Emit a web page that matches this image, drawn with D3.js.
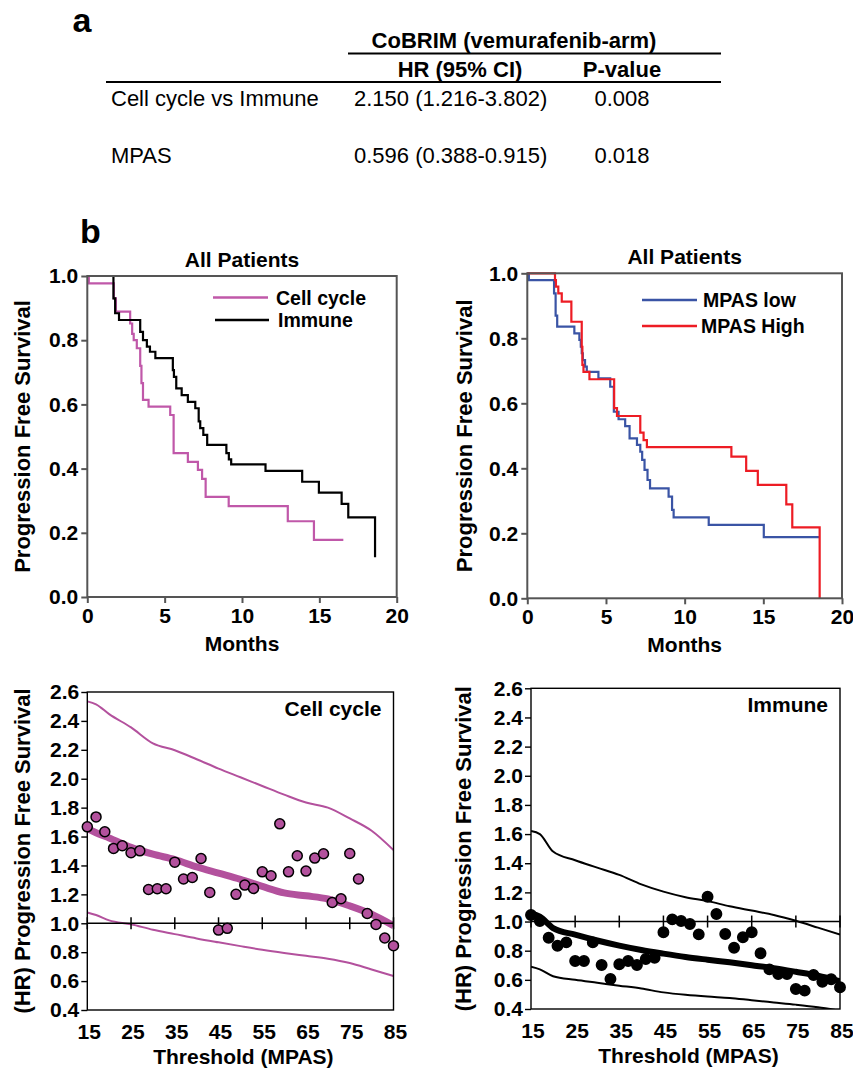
<!DOCTYPE html>
<html>
<head>
<meta charset="utf-8">
<script src="https://cdn.jsdelivr.net/npm/d3@7"></script>
<style>
  body { margin: 0; background: #fff; }
  svg { display: block; font-family: Arial, "Liberation Sans", sans-serif; }
</style>
</head>
<body>
<div class="workspace"></div>
<script>
// ---- table (panel a) ----
const tableRows = ['Cell cycle vs Immune', 'MPAS'];
const tableHR = ['2.150 (1.216-3.802)', '0.596 (0.388-0.915)'];
const tableP = ['0.008', '0.018'];

// ---- Kaplan-Meier curves (step times in months, survival after step) ----
const cellCycleTimes = [0, 0.1, 1.72, 1.85, 2.77, 2.9, 3.0, 3.2, 3.42, 3.5, 3.6, 3.96, 5.36, 5.58, 6.5, 7.15, 7.42, 7.65, 9.14, 12.96, 14.65, 16.55];
const cellCycleSurv = [1, 0.977, 0.93, 0.889, 0.852, 0.82, 0.8, 0.775, 0.72, 0.666, 0.614, 0.593, 0.567, 0.448, 0.421, 0.396, 0.368, 0.312, 0.283, 0.236, 0.178, 0.178];
const immuneTimes = [0, 1.69, 1.8, 2.05, 3.42, 3.6, 3.85, 4.05, 4.4, 5.53, 5.6, 5.75, 6.1, 6.5, 6.98, 7.2, 7.3, 7.5, 7.75, 8.99, 9.15, 9.3, 11.52, 13.89, 14.97, 16.44, 16.87, 18.6];
const immuneSurv = [1, 0.93, 0.884, 0.863, 0.826, 0.8, 0.78, 0.764, 0.744, 0.707, 0.686, 0.65, 0.629, 0.608, 0.588, 0.547, 0.526, 0.505, 0.474, 0.448, 0.429, 0.413, 0.393, 0.359, 0.325, 0.29, 0.248, 0.124];
const mpasLowTimes = [0, 0.1, 1.7, 1.8, 1.9, 2.99, 3.31, 3.4, 3.46, 3.53, 3.67, 3.78, 4.52, 5.27, 5.5, 5.8, 6.22, 6.5, 6.97, 7.18, 7.3, 7.45, 7.64, 7.8, 8.98, 9.2, 9.3, 11.53, 15.03, 18.58];
const mpasLowSurv = [1, 0.979, 0.938, 0.87, 0.836, 0.815, 0.795, 0.774, 0.754, 0.733, 0.713, 0.697, 0.677, 0.651, 0.574, 0.551, 0.53, 0.492, 0.472, 0.451, 0.426, 0.395, 0.364, 0.338, 0.313, 0.272, 0.249, 0.226, 0.188, 0.188];
const mpasHighTimes = [0, 1.76, 1.82, 1.97, 2.19, 2.8, 3.46, 3.5, 3.57, 3.95, 5.52, 5.7, 7.18, 7.39, 7.6, 12.97, 13.91, 14.65, 16.46, 16.84, 18.58];
const mpasHighSurv = [1, 0.979, 0.959, 0.938, 0.913, 0.851, 0.774, 0.718, 0.697, 0.674, 0.585, 0.561, 0.51, 0.487, 0.465, 0.436, 0.392, 0.349, 0.289, 0.218, 0];

const kmSurvTicks = [0, 0.2, 0.4, 0.6, 0.8, 1.0];
const kmMonthTicks = [0, 5, 10, 15, 20];

// ---- hazard ratio vs MPAS threshold ----
const hrThresholds = [15, 17, 19, 21, 23, 25, 27, 29, 31, 33, 35, 37, 39, 41, 43, 45, 47, 49, 51, 53, 55, 57, 59, 61, 63, 65, 67, 69, 71, 73, 75, 77, 79, 81, 83, 85];
const cellCycleHR = [1.667, 1.736, 1.633, 1.518, 1.536, 1.488, 1.501, 1.234, 1.239, 1.239, 1.423, 1.306, 1.317, 1.448, 1.213, 0.953, 0.965, 1.2, 1.264, 1.241, 1.356, 1.329, 1.688, 1.356, 1.467, 1.361, 1.451, 1.481, 1.144, 1.17, 1.483, 1.306, 1.068, 0.992, 0.898, 0.845];
const immuneHR = [1.045, 1.004, 0.889, 0.834, 0.857, 0.729, 0.729, 0.857, 0.702, 0.606, 0.707, 0.729, 0.702, 0.743, 0.752, 0.926, 1.015, 1.004, 0.983, 0.912, 1.17, 1.052, 0.914, 0.82, 0.892, 0.926, 0.782, 0.672, 0.64, 0.64, 0.537, 0.526, 0.633, 0.587, 0.604, 0.549];

const ciThresholds = [15, 17, 20, 25, 30, 35, 40, 45, 50, 55, 60, 65, 70, 75, 80, 85];
const cellCycleUpper = [2.535, 2.515, 2.447, 2.355, 2.245, 2.197, 2.135, 2.07, 2.01, 1.95, 1.89, 1.835, 1.8, 1.725, 1.64, 1.506];
const cellCycleLower = [1.075, 1.057, 1.02, 0.993, 0.955, 0.925, 0.895, 0.868, 0.842, 0.817, 0.795, 0.775, 0.755, 0.725, 0.68, 0.635];
const cellCycleFit = [1.656, 1.626, 1.59, 1.525, 1.478, 1.44, 1.39, 1.347, 1.304, 1.255, 1.21, 1.19, 1.168, 1.12, 1.062, 0.983];
const immuneUpper = [1.621, 1.6, 1.48, 1.42, 1.37, 1.32, 1.255, 1.205, 1.167, 1.14, 1.105, 1.075, 1.045, 1.005, 0.958, 0.91];
const immuneLower = [0.69, 0.672, 0.625, 0.6, 0.58, 0.56, 0.54, 0.514, 0.497, 0.485, 0.476, 0.46, 0.445, 0.43, 0.412, 0.388];
const immuneFit = [1.056, 1.033, 0.955, 0.91, 0.87, 0.835, 0.805, 0.78, 0.757, 0.738, 0.72, 0.7, 0.68, 0.655, 0.628, 0.59];

const hrYTicks = [0.4, 0.6, 0.8, 1.0, 1.2, 1.4, 1.6, 1.8, 2.0, 2.2, 2.4, 2.6];
const hrXTicks = [15, 25, 35, 45, 55, 65, 75, 85];

const pink = '#c058a9';
const purple = '#b3519d';
const blue = '#3a54a5';
const red = '#ed1c24';
const frameGray = '#555';

const svg = d3
  .select('.workspace')
  .append('svg')
  .attr('width', 853)
  .attr('height', 1069);

function label(g, x, y, text, size, weight, anchor) {
  return g
    .append('text')
    .attr('x', x)
    .attr('y', y)
    .attr('font-size', size)
    .attr('font-weight', weight || 'bold')
    .attr('text-anchor', anchor || 'middle')
    .text(text);
}

function ylabel(g, x, yMid, text) {
  g.append('text')
    .attr('transform', `translate(${x},${yMid}) rotate(-90)`)
    .attr('font-size', 22)
    .attr('font-weight', 'bold')
    .attr('text-anchor', 'middle')
    .text(text);
}

// ---------------- panel a ----------------
function drawTable() {
  const g = svg.append('g');
  label(g, 82, 32, 'a', 34);
  label(g, 514, 48, 'CoBRIM (vemurafenib-arm)', 22);
  g.append('line').attr('x1', 348).attr('x2', 721).attr('y1', 53.5).attr('y2', 53.5)
    .attr('stroke', '#000').attr('stroke-width', 2);
  label(g, 460, 77, 'HR (95% CI)', 22);
  label(g, 622, 77, 'P-value', 22);
  g.append('line').attr('x1', 106).attr('x2', 721).attr('y1', 82).attr('y2', 82)
    .attr('stroke', '#000').attr('stroke-width', 2);

  const rowY = [106, 163];
  tableRows.forEach((r, i) => {
    label(g, 111, rowY[i], r, 22, 'normal', 'start');
    label(g, 354, rowY[i], tableHR[i], 22, 'normal', 'start');
    label(g, 622, rowY[i], tableP[i], 22, 'normal', 'middle');
  });
}

// ---------------- Kaplan-Meier panels ----------------
function drawKM(cfg) {
  const g = svg.append('g');
  const x = d3.scaleLinear().domain([0, 20]).range([cfg.left, cfg.right]);
  const y = d3.scaleLinear().domain([0, 1]).range([cfg.bottom, cfg.top]);

  const line = d3
    .line()
    .x((d) => x(d[0]))
    .y((d) => y(d[1]))
    .curve(d3.curveStepAfter);

  cfg.series.forEach((s) => {
    g.append('path')
      .datum(d3.zip(s.times, s.surv))
      .attr('d', line)
      .attr('fill', 'none')
      .attr('stroke', s.color)
      .attr('stroke-width', 2.2);
  });

  // outline of the plot area
  g.append('rect')
    .attr('x', cfg.left)
    .attr('y', cfg.top)
    .attr('width', cfg.right - cfg.left)
    .attr('height', cfg.bottom - cfg.top)
    .attr('fill', 'none')
    .attr('stroke', frameGray)
    .attr('stroke-width', 2);

  const yAxis = g
    .append('g')
    .attr('transform', `translate(${cfg.left},0)`)
    .call(d3.axisLeft(y).tickValues(kmSurvTicks).tickFormat(d3.format('.1f')).tickSize(6).tickPadding(3));
  const xAxis = g
    .append('g')
    .attr('transform', `translate(0,${cfg.bottom})`)
    .call(d3.axisBottom(x).tickValues(kmMonthTicks).tickSize(6).tickPadding(5));
  [yAxis, xAxis].forEach((a) => {
    a.select('.domain').remove();
    a.selectAll('line').attr('stroke', frameGray).attr('stroke-width', 2);
    a.selectAll('text')
      .attr('font-size', 21)
      .attr('font-weight', 'bold')
      .attr('font-family', 'Arial, "Liberation Sans", sans-serif')
      .attr('fill', '#000');
  });

  const mid = (cfg.left + cfg.right) / 2;
  label(g, mid, cfg.top - 9, 'All Patients', 21);
  label(g, mid, cfg.bottom + 54, 'Months', 21);
  ylabel(g, cfg.ylabelX, (cfg.top + cfg.bottom) / 2, 'Progression Free Survival');

  cfg.legend.forEach((l) => {
    g.append('line')
      .attr('x1', l.x1).attr('x2', l.x2)
      .attr('y1', l.y).attr('y2', l.y)
      .attr('stroke', l.color)
      .attr('stroke-width', 2.4);
    label(g, l.tx, l.y + 7, l.text, 19.5, 'bold', 'start');
  });
}

// ---------------- hazard ratio panels ----------------
function drawHR(cfg) {
  const g = svg.append('g');
  const x = d3.scaleLinear().domain([15, 85]).range([cfg.left, cfg.right]);
  const y = d3.scaleLinear().domain([0.4, 2.6]).range([cfg.bottom, cfg.top]);

  const clipId = 'clip-' + cfg.id;
  g.append('clipPath').attr('id', clipId)
    .append('rect')
    .attr('x', cfg.left).attr('y', cfg.top)
    .attr('width', cfg.right - cfg.left).attr('height', cfg.bottom - cfg.top);

  const plot = g.append('g').attr('clip-path', `url(#${clipId})`);
  const line = d3
    .line()
    .x((d) => x(d[0]))
    .y((d) => y(d[1]))
    .curve(d3.curveMonotoneX);

  [cfg.upper, cfg.lower].forEach((vals) => {
    plot.append('path')
      .datum(d3.zip(ciThresholds, vals))
      .attr('d', line)
      .attr('fill', 'none')
      .attr('stroke', cfg.color)
      .attr('stroke-width', 2);
  });
  plot.append('path')
    .datum(d3.zip(ciThresholds, cfg.fit))
    .attr('d', line)
    .attr('fill', 'none')
    .attr('stroke', cfg.color)
    .attr('stroke-width', cfg.fitWidth);

  // HR = 1 reference line with crossing ticks
  g.append('line')
    .attr('x1', cfg.left).attr('x2', cfg.right)
    .attr('y1', y(1)).attr('y2', y(1))
    .attr('stroke', '#000').attr('stroke-width', 1.5);
  g.selectAll('.xtick')
    .data(hrXTicks)
    .enter()
    .append('line')
    .attr('x1', (d) => x(d)).attr('x2', (d) => x(d))
    .attr('y1', y(1) - 6).attr('y2', y(1) + 6)
    .attr('stroke', '#000').attr('stroke-width', 1.5);

  g.append('rect')
    .attr('x', cfg.left).attr('y', cfg.top)
    .attr('width', cfg.right - cfg.left).attr('height', cfg.bottom - cfg.top)
    .attr('fill', 'none').attr('stroke', '#000').attr('stroke-width', 1.4);

  g.selectAll('circle')
    .data(d3.zip(hrThresholds, cfg.points))
    .enter()
    .append('circle')
    .attr('cx', (d) => x(d[0]))
    .attr('cy', (d) => y(d[1]))
    .attr('r', cfg.dotR)
    .attr('fill', cfg.dotFill)
    .attr('stroke', '#000')
    .attr('stroke-width', 1.5);

  const yAxis = g
    .append('g')
    .attr('transform', `translate(${cfg.left},0)`)
    .call(d3.axisLeft(y).tickValues(hrYTicks).tickFormat(d3.format('.1f')).tickSize(6).tickPadding(2));
  yAxis.select('.domain').remove();
  yAxis.selectAll('line').attr('stroke', '#000').attr('stroke-width', 1.4);
  yAxis.selectAll('text')
    .attr('font-size', 21)
    .attr('font-weight', 'bold')
    .attr('font-family', 'Arial, "Liberation Sans", sans-serif')
    .attr('fill', '#000');

  g.selectAll('.xlab')
    .data(hrXTicks)
    .enter()
    .append('text')
    .attr('x', (d) => x(d) + 2)
    .attr('y', cfg.bottom + 29)
    .attr('text-anchor', 'middle')
    .attr('font-size', 21)
    .attr('font-weight', 'bold')
    .text((d) => d);

  label(g, (cfg.left + cfg.right) / 2 + 3, cfg.bottom + 54, 'Threshold (MPAS)', 21);
  ylabel(g, cfg.ylabelX, (cfg.top + cfg.bottom) / 2, '(HR) Progression Free Survival');
  label(g, cfg.right - 12, cfg.top + 24, cfg.title, 21, 'bold', 'end');
}

drawTable();
label(svg, 80, 243, 'b', 34, 'bold', 'start');

drawKM({
  left: 87.3, right: 396.7, top: 276, bottom: 597, ylabelX: 30,
  series: [
    { times: cellCycleTimes, surv: cellCycleSurv, color: pink },
    { times: immuneTimes, surv: immuneSurv, color: '#000' },
  ],
  legend: [
    { x1: 213, x2: 268, y: 297.5, tx: 276, text: 'Cell cycle', color: pink },
    { x1: 215, x2: 269, y: 320, tx: 278, text: 'Immune', color: '#000' },
  ],
});

drawKM({
  left: 527.3, right: 842, top: 273.3, bottom: 598.3, ylabelX: 472,
  series: [
    { times: mpasLowTimes, surv: mpasLowSurv, color: blue },
    { times: mpasHighTimes, surv: mpasHighSurv, color: red },
  ],
  legend: [
    { x1: 642, x2: 697, y: 300, tx: 703, text: 'MPAS low', color: blue },
    { x1: 642, x2: 697, y: 326, tx: 701, text: 'MPAS High', color: red },
  ],
});

drawHR({
  id: 'cc', left: 87.3, right: 393.5, top: 692, bottom: 1010, ylabelX: 30,
  upper: cellCycleUpper, lower: cellCycleLower, fit: cellCycleFit, points: cellCycleHR,
  color: purple, fitWidth: 7, dotFill: purple, dotR: 5, title: 'Cell cycle',
});

drawHR({
  id: 'im', left: 531, right: 840, top: 688.3, bottom: 1009, ylabelX: 471,
  upper: immuneUpper, lower: immuneLower, fit: immuneFit, points: immuneHR,
  color: '#000', fitWidth: 6, dotFill: '#000', dotR: 5.2, title: 'Immune',
});
</script>
</body>
</html>
